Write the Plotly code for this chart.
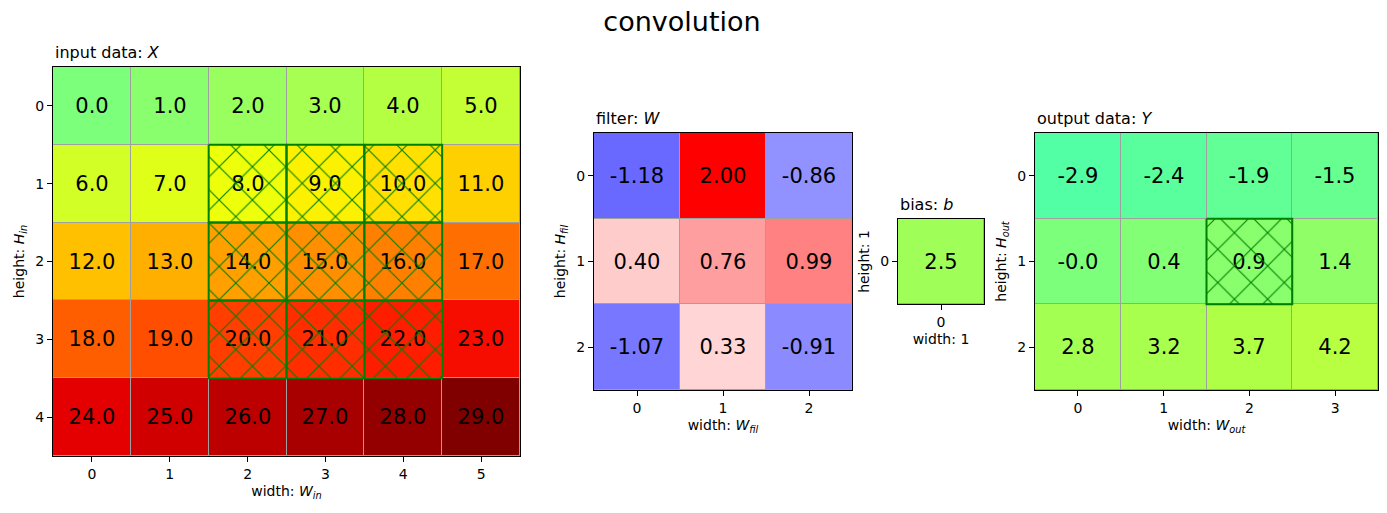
import plotly.graph_objects as go

# === Data ===
x_in = [
    [0.0, 1.0, 2.0, 3.0, 4.0, 5.0],
    [6.0, 7.0, 8.0, 9.0, 10.0, 11.0],
    [12.0, 13.0, 14.0, 15.0, 16.0, 17.0],
    [18.0, 19.0, 20.0, 21.0, 22.0, 23.0],
    [24.0, 25.0, 26.0, 27.0, 28.0, 29.0],
]
w_fil = [
    [-1.18, 2.00, -0.86],
    [0.40, 0.76, 0.99],
    [-1.07, 0.33, -0.91],
]
b_bias = [[2.5]]
y_out = [
    [-2.9, -2.4, -1.9, -1.5],
    [-0.0, 0.4, 0.9, 1.4],
    [2.8, 3.2, 3.7, 4.2],
]
out_pos = (1, 2)  # highlighted output cell (row, col)
fil_size = 3

# === Colormaps (matplotlib jet / bwr) ===
JET = {
    "red": [(0, 0), (0.35, 0), (0.66, 1), (0.89, 1), (1, 0.5)],
    "green": [(0, 0), (0.125, 0), (0.375, 1), (0.64, 1), (0.91, 0), (1, 0)],
    "blue": [(0, 0.5), (0.11, 1), (0.34, 1), (0.65, 0), (1, 0)],
}


def seg(pts, t):
    for (x0, y0), (x1, y1) in zip(pts, pts[1:]):
        if x0 <= t <= x1:
            return y0 + (y1 - y0) * (t - x0) / (x1 - x0)
    return pts[-1][1]


stops = sorted({p[0] for pts in JET.values() for p in pts})
jet = [[t, "rgb(%d,%d,%d)" % tuple(round(255 * seg(JET[c], t)) for c in ("red", "green", "blue"))]
       for t in stops]
bwr = [[0, "rgb(0,0,255)"], [0.5, "rgb(255,255,255)"], [1, "rgb(255,0,0)"]]

vmax = max(abs(v) for row in x_in for v in row)
wmax = max(abs(v) for row in w_fil for v in row)

FONT = "DejaVu Sans"


def cell_text(z, fmt):
    return [[fmt.format(v) for v in row] for row in z]


def heat(z, fmt, cscale, lim, ax):
    return go.Heatmap(
        z=z, x=list(range(len(z[0]))), y=list(range(len(z))),
        text=cell_text(z, fmt), texttemplate="%{text}",
        textfont=dict(size=21, color="black", family=FONT),
        colorscale=cscale, zmin=-lim, zmax=lim, showscale=False,
        xgap=1, ygap=1, hoverinfo="skip",
        xaxis="x" + ax, yaxis="y" + ax,
    )


def cell_boxes(cells, ax):
    xs, ys = [], []
    for r, c in cells:
        xs += [c - 0.5, c + 0.5, c + 0.5, c - 0.5, c - 0.5, None]
        ys += [r - 0.5, r - 0.5, r + 0.5, r + 0.5, r - 0.5, None]
    return go.Scatter(
        x=xs, y=ys, mode="lines", fill="toself",
        line=dict(color="green", width=2),
        fillcolor="rgba(0,0,0,0)",
        fillpattern=dict(shape="x", fgcolor="green", bgcolor="rgba(0,0,0,0)",
                         size=23.5, solidity=0.09, fillmode="replace"),
        showlegend=False, hoverinfo="skip",
        xaxis="x" + ax, yaxis="y" + ax,
    )


in_cells = [(out_pos[0] + i, out_pos[1] + j) for i in range(fil_size) for j in range(fil_size)]

fig = go.Figure()
fig.add_trace(heat(x_in, "{:.1f}", jet, vmax, ""))
fig.add_trace(cell_boxes(in_cells, ""))
fig.add_trace(heat(w_fil, "{:.2f}", bwr, wmax, "2"))
fig.add_trace(heat(b_bias, "{:.1f}", jet, vmax, "3"))
fig.add_trace(heat(y_out, "{:.1f}", jet, vmax, "4"))
fig.add_trace(cell_boxes([out_pos], "4"))

W, H = 1387, 513
# panel boxes in pixels: left, right, top, bottom
panels = {
    "": (53, 520, 67, 456),
    "2": (594, 852, 133, 390),
    "3": (898, 984, 219, 304),
    "4": (1035, 1378, 133, 390),
}
labels = {
    "": ("width: <i>W</i><sub><i>in</i></sub>", "height: <i>H</i><sub><i>in</i></sub>", "input data: <i>X</i>", x_in),
    "2": ("width: <i>W</i><sub><i>fil</i></sub>", "height: <i>H</i><sub><i>fil</i></sub>", "filter: <i>W</i>", w_fil),
    "3": ("width: 1", "height: 1", "bias: <i>b</i>", b_bias),
    "4": ("width: <i>W</i><sub><i>out</i></sub>", "height: <i>H</i><sub><i>out</i></sub>", "output data: <i>Y</i>", y_out),
}

axis_style = dict(
    showline=True, linecolor="black", linewidth=1, mirror=True,
    ticks="outside", ticklen=5, tickcolor="black", showgrid=False, zeroline=False,
    tickfont=dict(size=14, color="black", family=FONT),
    title_font=dict(size=14, color="black", family=FONT),
)

layout = {}
annotations = []
for ax, (l, r, t, b) in panels.items():
    xlab, ylab, title, z = labels[ax]
    nr, nc = len(z), len(z[0])
    layout["xaxis" + ax] = dict(
        axis_style, domain=[l / W, r / W], anchor="y" + ax,
        range=[-0.5, nc - 0.5], tickvals=list(range(nc)),
        title=dict(text=xlab, standoff=5),
    )
    layout["yaxis" + ax] = dict(
        axis_style, domain=[1 - b / H, 1 - t / H], anchor="x" + ax,
        range=[nr - 0.5, -0.5], tickvals=list(range(nr)),
        title=dict(text=ylab, standoff=7),
    )
    annotations.append(dict(
        text=title, xref="paper", yref="paper", x=l / W, y=1 - t / H,
        xanchor="left", yanchor="bottom", yshift=3, showarrow=False,
        font=dict(size=16, color="black", family=FONT),
    ))

fig.update_layout(
    **layout,
    annotations=annotations,
    title=dict(text="convolution", x=682 / W, xanchor="center", y=1 - 22 / H, yanchor="middle",
               font=dict(size=27, color="black", family=FONT)),
    width=W, height=H,
    margin=dict(l=0, r=0, t=0, b=0),
    plot_bgcolor="rgb(160,160,160)",
    paper_bgcolor="white",
    font=dict(family=FONT, color="black"),
    showlegend=False,
)

fig.write_html("out.html", config={"displayModeBar": False},
               post_script="document.body.style.margin = '0';")
